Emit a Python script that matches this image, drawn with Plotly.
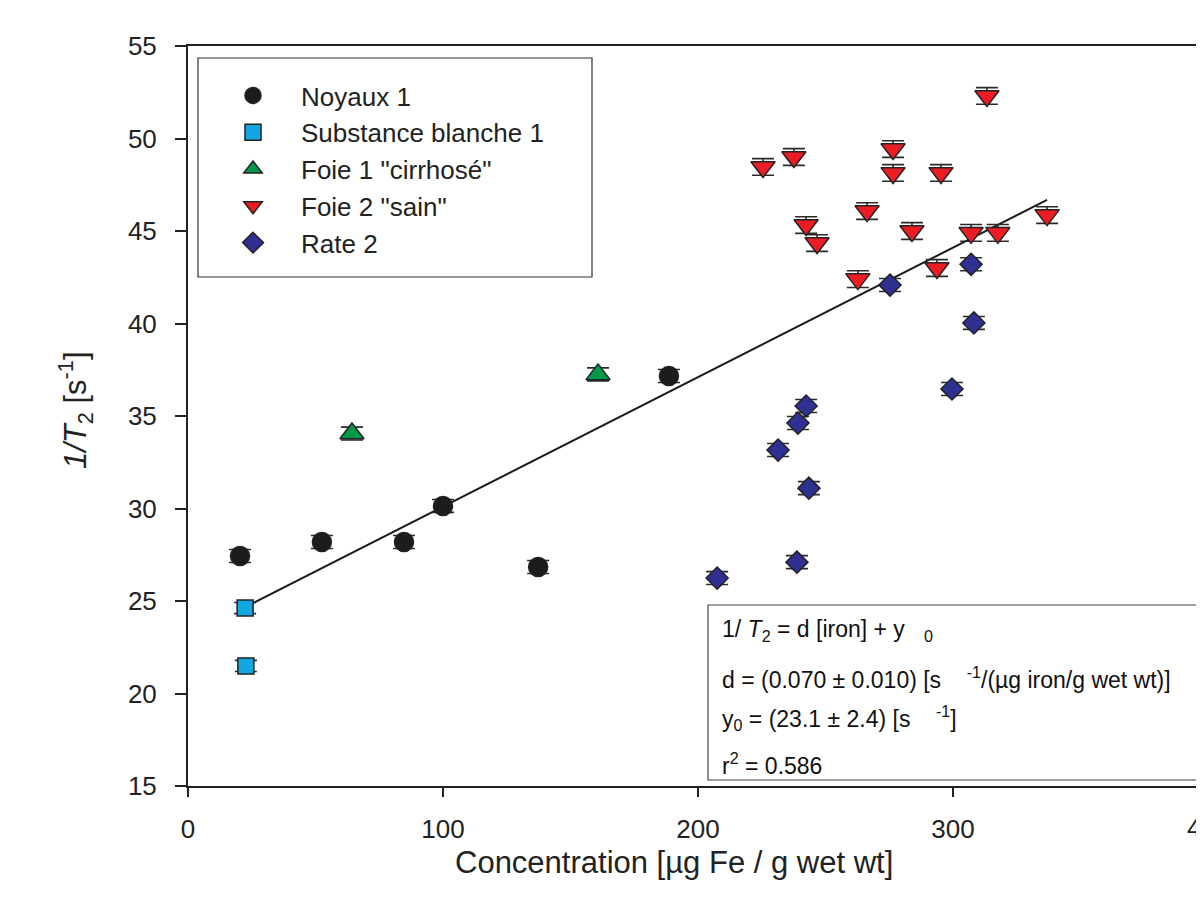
import plotly.graph_objects as go

# ---------------- data ----------------
noy_x = [20.4, 52.5, 84.7, 100.0, 137.3, 188.6]
noy_y = [27.43, 28.19, 28.19, 30.14, 26.84, 37.16]
noy_err = [0.35, 0.35, 0.35, 0.35, 0.35, 0.35]

sub_x = [22.4, 22.7]
sub_y = [24.62, 21.49]
sub_err = [0.3, 0.3]

foie1_x = [64.3, 160.8]
foie1_y = [34.05, 37.25]
foie1_err = [0.35, 0.35]

foie2_x = [225.5, 237.6, 276.5, 276.5, 295.3, 313.3, 266.3, 242.4, 246.7,
           283.9, 307.1, 317.6, 336.9, 262.7, 293.7]
foie2_y = [48.46, 49.0, 49.43, 48.14, 48.14, 52.3, 46.08, 45.32, 44.35,
           45.0, 44.9, 44.9, 45.86, 42.4, 43.0]
foie2_err = [0.45] * 15

rate_x = [275.3, 307.1, 308.2, 299.6, 242.4, 239.2, 231.4, 243.5, 238.8, 207.5]
rate_y = [42.08, 43.2, 40.03, 36.46, 35.54, 34.62, 33.16, 31.1, 27.1, 26.24]
rate_err = [0.35] * 10

fit_slope = 0.070
fit_intercept = 23.1

x_ticks = [0, 100, 200, 300, 400]
y_ticks = [15, 20, 25, 30, 35, 40, 45, 50, 55]

FONT = "Liberation Sans, Arial, sans-serif"
EDGE = "#222222"
TXT = "#222222"

# ---------------- geometry (page has an 8px body margin) ----------------
W, H = 1188, 893
ML, MT, MB = 180, 38, 115
PLOT_W = W - ML
PX_PER_X = 2.55
x_max = PLOT_W / PX_PER_X
VX0, VY_BOT, PX_PER_Y = 188, 786, 18.5   # viewport coords of plot origin


def px(vx):      # viewport x pixel -> paper fraction
    return (vx - VX0) / PLOT_W


def py(vy):      # viewport y pixel -> paper fraction
    return (VY_BOT - vy) / 740


def dx(vx):      # viewport x pixel -> data x
    return (vx - VX0) / PX_PER_X


def dy(vy):      # viewport y pixel -> data y
    return 15 + (VY_BOT - vy) / PX_PER_Y


fig = go.Figure()


def err(vals):
    return dict(type="data", array=vals, visible=True, color="#2a2a2a",
                thickness=1.6, width=11)


series = [
    ("Noyaux 1", noy_x, noy_y, noy_err, "circle", "#1c1c1c", 19),
    ("Substance blanche 1", sub_x, sub_y, sub_err, "square", "#12a6e3", 16),
    ("Foie 1 \"cirrhosé\"", foie1_x, foie1_y, foie1_err, "triangle-up", "#00984a", 21),
    ("Foie 2 \"sain\"", foie2_x, foie2_y, foie2_err, "triangle-down", "#ec1c24", 21),
    ("Rate 2", rate_x, rate_y, rate_err, "diamond", "#2e3192", 17),
]

# regression line
all_x = noy_x + sub_x + foie1_x + foie2_x + rate_x
lx = [min(all_x), max(all_x)]
ly = [fit_intercept + fit_slope * v for v in lx]
fig.add_trace(go.Scatter(x=lx, y=ly, mode="lines", showlegend=False,
                         line=dict(color="#1a1a1a", width=2), hoverinfo="skip"))

for i, (name, xs, ys, es, sym, col, sz) in enumerate(series):
    fig.add_trace(go.Scatter(
        x=xs, y=ys, mode="markers", name=name, legendgroup=str(i),
        error_y=err(es),
        marker=dict(symbol=sym, color=col, size=sz,
                    line=dict(color=EDGE, width=1.5)),
    ))

# legend frame
fig.add_shape(type="rect", xref="paper", yref="paper",
              x0=px(198), x1=px(592), y0=py(277), y1=py(58),
              line=dict(color="#333333", width=1.2), fillcolor="white", layer="below")

# fit box
fig.add_shape(type="rect", xref="x", yref="y",
              x0=dx(708), x1=430, y0=dy(780), y1=dy(605),
              line=dict(color="#444444", width=1.2), fillcolor="white", layer="below")

box_lines = [
    ("1/ <i>T</i><sub>2</sub> = d [iron] + y   <sub>0</sub>", 630),
    ("d = (0.070 ± 0.010) [s    <sup>-1</sup>/(µg iron/g wet wt)]", 678),
    ("y<sub>0</sub> = (23.1 ± 2.4) [s    <sup>-1</sup>]", 718),
    ("r<sup>2</sup> = 0.586", 764),
]
for txt, vy in box_lines:
    fig.add_annotation(x=dx(720), y=dy(vy), xref="x", yref="y", text=txt,
                       showarrow=False, xanchor="left", yanchor="middle",
                       font=dict(family=FONT, size=23, color="#111111"))

# x-axis title
fig.add_annotation(x=dx(674), xref="x", y=0, yref="paper",
                   yanchor="middle", yshift=-(862 - VY_BOT),
                   text="Concentration [µg Fe / g wet wt]", showarrow=False,
                   font=dict(family=FONT, size=31, color=TXT))

# partially visible last tick label
fig.add_annotation(x=400 / x_max, xref="paper", y=0, yref="paper",
                   yanchor="middle", yshift=-(828 - VY_BOT), xanchor="center",
                   text="400", showarrow=False,
                   font=dict(family=FONT, size=26, color=TXT))

# y-axis title
fig.add_annotation(x=px(75), xref="paper", y=py(410), yref="paper",
                   text="<i>1/T</i><sub>2</sub> [s<sup>-1</sup>]", showarrow=False,
                   textangle=-90, xanchor="center", yanchor="middle",
                   font=dict(family=FONT, size=31, color=TXT))

fig.update_layout(
    width=W, height=H,
    margin=dict(l=ML, r=0, t=MT, b=MB, pad=0),
    paper_bgcolor="white", plot_bgcolor="white",
    font=dict(family=FONT, size=24, color=TXT),
    showlegend=True,
    legend=dict(
        x=px(205), y=py(72),
        xanchor="left", yanchor="top",
        bgcolor="rgba(0,0,0,0)", borderwidth=0,
        font=dict(family=FONT, size=26, color=TXT),
        itemwidth=86, tracegroupgap=8, traceorder="normal",
    ),
    xaxis=dict(
        range=[0, x_max], tickvals=x_ticks, ticks="outside", ticklen=9,
        tickwidth=1.5, tickcolor=TXT, showline=True, linecolor=TXT,
        linewidth=2, mirror=True, showgrid=False, zeroline=False,
        tickfont=dict(family=FONT, size=26, color=TXT),
        ticklabelstandoff=10,
    ),
    yaxis=dict(
        range=[15, 55], tickvals=y_ticks, ticks="outside", ticklen=11,
        tickwidth=1.5, tickcolor=TXT, showline=True, linecolor=TXT,
        linewidth=2, mirror=False, showgrid=False, zeroline=False,
        tickfont=dict(family=FONT, size=26, color=TXT),
        ticklabelstandoff=13,
    ),
)

fig.write_html("out.html")
